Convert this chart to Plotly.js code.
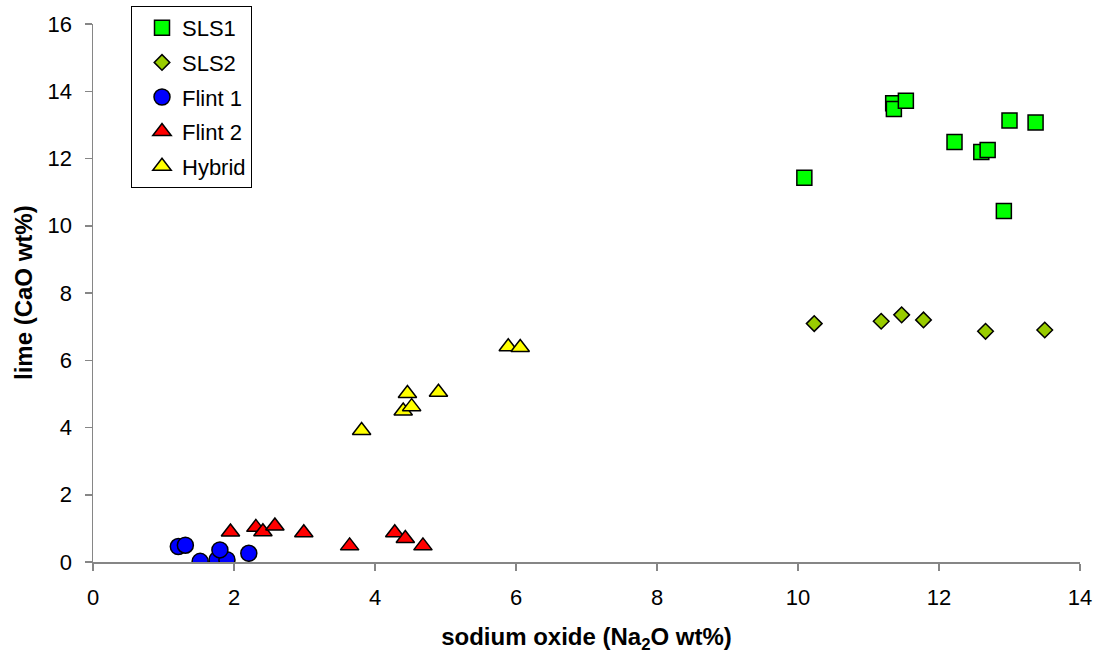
<!DOCTYPE html>
<html><head><meta charset="utf-8">
<script src="https://cdn.plot.ly/plotly-3.0.1.min.js"></script>
<style>body{margin:0;background:#fff}#chart{width:1102px;height:660px}</style>
</head><body><div id="chart"></div>
<script>
const sls1X = [10.09, 11.35, 11.36, 11.53, 12.22, 12.60, 12.69, 13.00, 13.37, 12.92];
const sls1Y = [11.43, 13.64, 13.47, 13.72, 12.49, 12.19, 12.25, 13.13, 13.07, 10.44];
const sls2X = [10.23, 11.18, 11.47, 11.78, 12.66, 13.50];
const sls2Y = [7.09, 7.16, 7.35, 7.20, 6.86, 6.90];
const flint1X = [1.21, 1.31, 1.52, 1.76, 1.90, 1.80, 2.21];
const flint1Y = [0.46, 0.50, 0.02, 0.07, 0.07, 0.36, 0.26];
const flint2X = [1.95, 2.31, 2.41, 2.58, 2.99, 3.64, 4.28, 4.43, 4.68];
const flint2Y = [0.89, 1.03, 0.90, 1.07, 0.87, 0.48, 0.87, 0.70, 0.48];
const hybridX = [3.81, 4.40, 4.52, 4.46, 4.90, 5.89, 6.06];
const hybridY = [3.91, 4.49, 4.62, 5.01, 5.05, 6.40, 6.38];
const xTicks = [0, 2, 4, 6, 8, 10, 12, 14];
const yTicks = [0, 2, 4, 6, 8, 10, 12, 14, 16];
const xTitle = 'sodium oxide (Na<sub>2</sub>O wt%)';
const yTitle = 'lime (CaO wt%)';

const line = {color: '#000', width: 1.5};
function tr(name, x, y, symbol, color, size, grp) {
  return {type: 'scatter', mode: 'markers', name: name, x: x, y: y, legendgroup: grp,
    marker: {symbol: symbol, color: color, size: size, line: line}};
}
const data = [
  tr('SLS1', sls1X, sls1Y, 'square', '#00ff00', 15, 'a'),
  tr('SLS2', sls2X, sls2Y, 'diamond', '#99cc00', 12, 'b'),
  tr('Flint 1', flint1X, flint1Y, 'circle', '#0000ff', 16, 'c'),
  tr('Flint 2', flint2X, flint2Y, 'triangle-up', '#ff0000', 16, 'd'),
  tr('Hybrid', hybridX, hybridY, 'triangle-up', '#ffff00', 16, 'e')
];
const fam = 'Liberation Sans, Arial, sans-serif';
const axisCommon = {
  showgrid: false, zeroline: false, showline: true, linecolor: '#868686', linewidth: 1.5,
  ticks: 'outside', ticklen: 7, tickcolor: '#868686', tickwidth: 1.5,
  tickfont: {family: fam, size: 22, color: '#000'}
};
const layout = {
  width: 1102, height: 660,
  margin: {l: 93, r: 22, t: 24, b: 98, autoexpand: false},
  paper_bgcolor: '#fff', plot_bgcolor: '#fff',
  font: {family: fam, color: '#000'},
  xaxis: Object.assign({}, axisCommon, {range: [0, 14], tickvals: xTicks, ticklabelstandoff: 8,
    title: {text: xTitle, font: {size: 24, weight: 'bold'}}}),
  yaxis: Object.assign({}, axisCommon, {range: [0, 16], tickvals: yTicks, ticklabelstandoff: 8}),
  annotations: [{text: yTitle, textangle: -90, xref: 'paper', yref: 'paper', x: 0, y: 0.5,
    xanchor: 'center', yanchor: 'middle', xshift: -70, showarrow: false,
    font: {family: fam, size: 24, weight: 'bold', color: '#000'}}],
  legend: {x: 131/1102, xref: 'container', y: 1 - 6/660, yref: 'container', yanchor: 'top', xanchor: 'left',
    bordercolor: '#000', borderwidth: 1, bgcolor: '#fff', indentation: 10,
    font: {size: 22}, tracegroupgap: 3, traceorder: 'grouped', itemwidth: 30},
  showlegend: true
};
Plotly.newPlot('chart', data, layout, {displayModeBar: false, staticPlot: true});
</script></body></html>
